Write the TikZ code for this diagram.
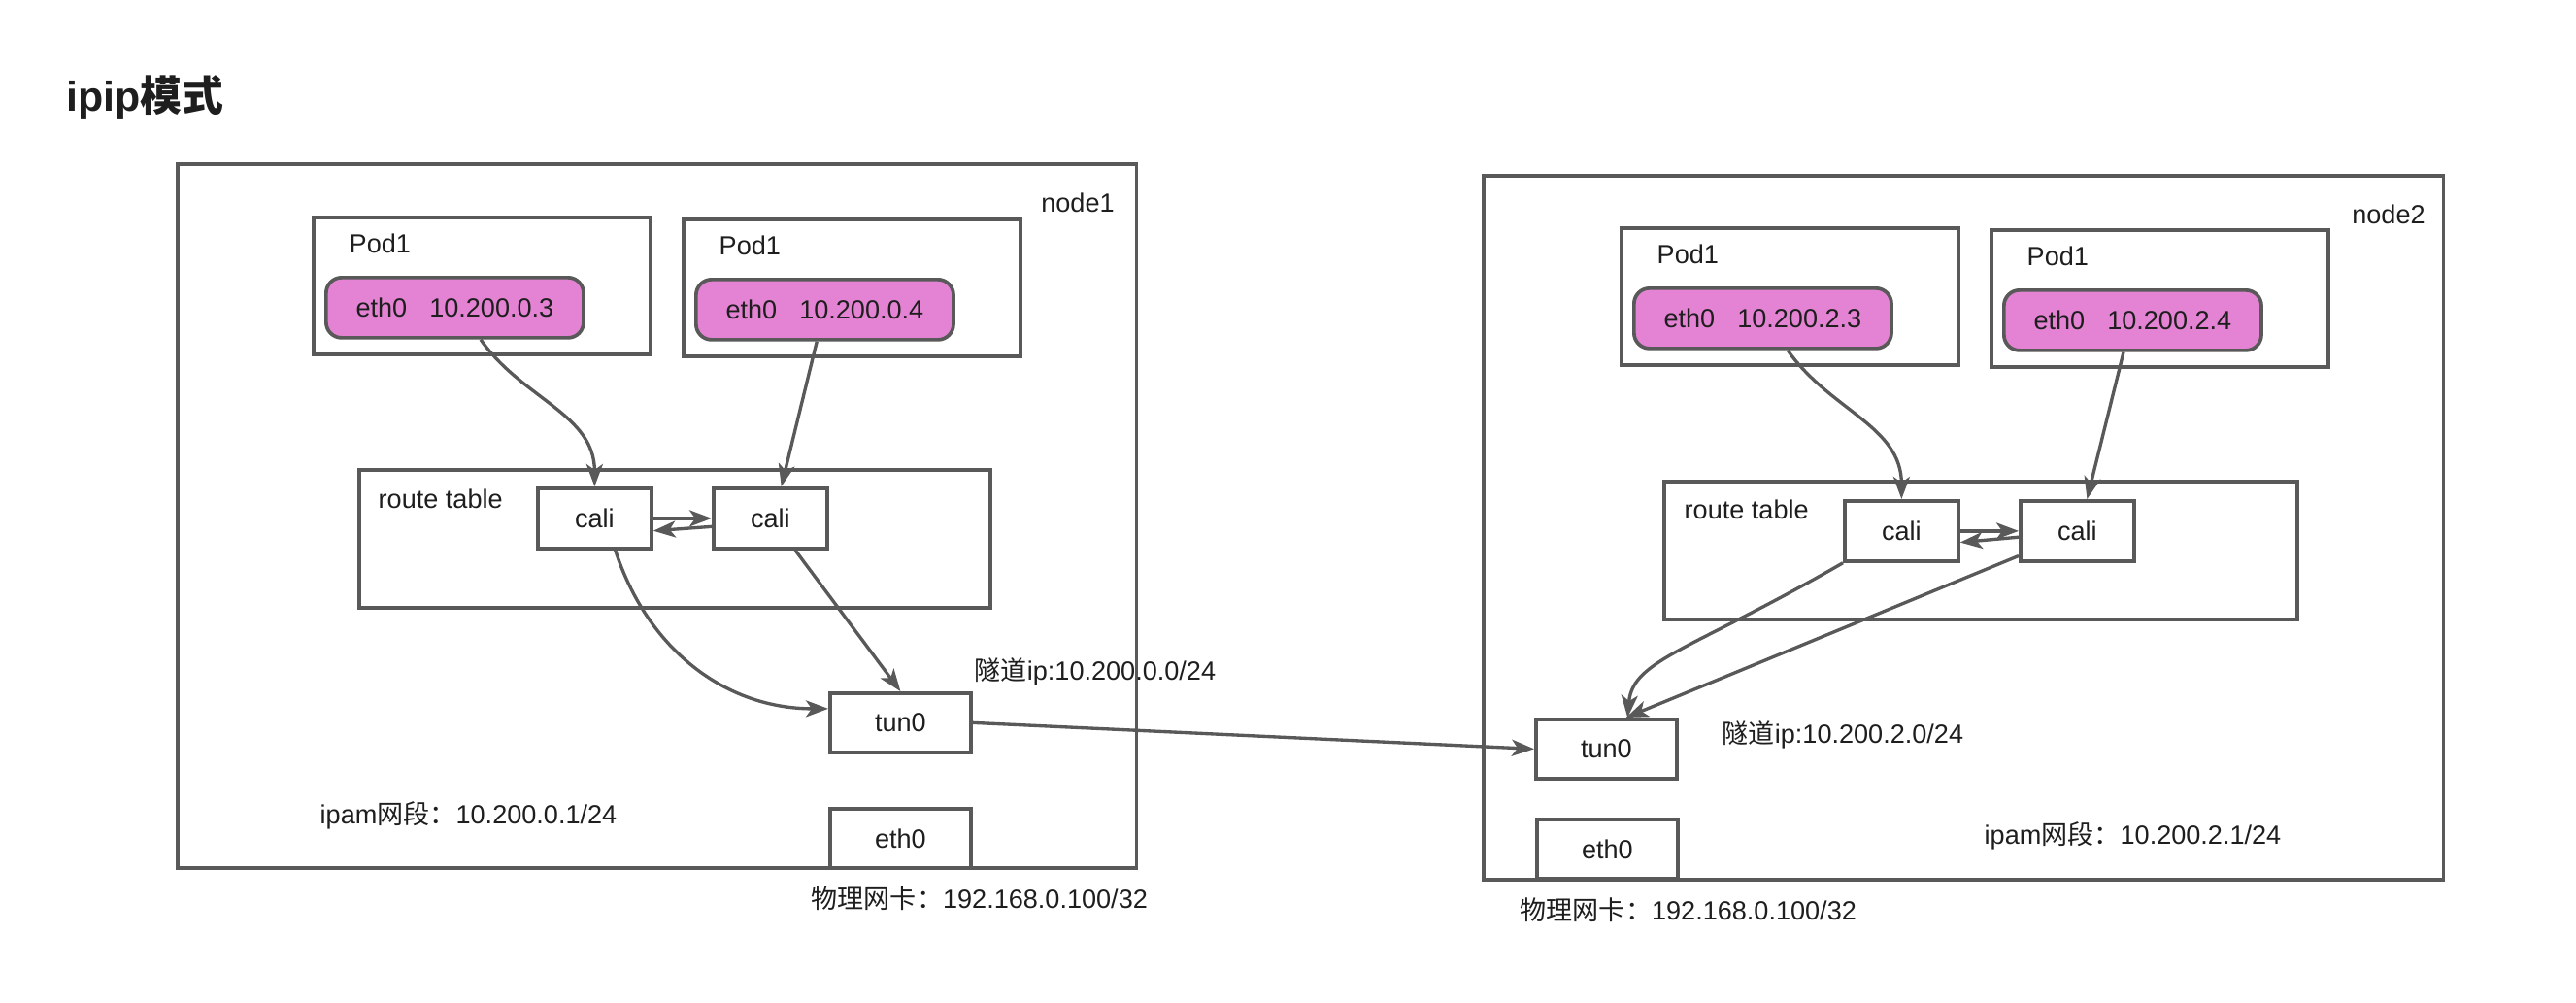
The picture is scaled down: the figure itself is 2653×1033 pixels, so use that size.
\documentclass[tikz,border=0pt]{standalone}
\usepackage{fontspec}
\setmainfont{Liberation Sans}
\newfontfamily\cjk{Noto Sans CJK SC}
\usetikzlibrary{arrows.meta,positioning,calc}
\definecolor{linegray}{RGB}{89,89,89}
\definecolor{podpink}{RGB}{228,131,212}
\definecolor{textdark}{RGB}{30,30,30}
\tikzset{
  nodebox/.style={draw=linegray,line width=1.05pt,inner sep=0pt,anchor=north west},
  podbox/.style={nodebox,minimum width=3.47cm,minimum height=1.41cm},
  pill/.style={nodebox,fill=podpink,rounded corners=0.16cm,minimum width=2.65cm,minimum height=0.62cm,
    font=\fontsize{7.7}{9}\selectfont,text=textdark},
  calibox/.style={nodebox,minimum width=1.17cm,minimum height=0.62cm,font=\fontsize{7.7}{9}\selectfont,text=textdark},
  devbox/.style={nodebox,minimum width=1.45cm,minimum height=0.61cm,font=\fontsize{7.7}{9}\selectfont,text=textdark},
  txt/.style={font=\fontsize{7.7}{9}\selectfont,text=textdark,inner sep=0pt,anchor=west},
  arr/.style={-{Stealth[length=0.23cm,width=0.17cm,inset=0.06cm]},line width=0.95pt,draw=linegray}
}

\begin{document}
\begin{tikzpicture}[
  x=0.01cm,y=0.01cm,
  titletxt/.style={font=\bfseries\fontsize{12.2}{14}\selectfont,text=textdark,inner sep=0pt,anchor=west}
]
\useasboundingbox (0,0) rectangle (2653,-1033);

\node[titletxt] (title) at (68,-101) {ipip{\cjk\bfseries 模式}};

% hosts
\node[nodebox,minimum width=9.87cm,minimum height=7.25cm] (node1) at (181,-167) {};
\node[nodebox,minimum width=9.88cm,minimum height=7.25cm] (node2) at (1526,-179) {};
\node[txt,anchor=center] (node1lbl) at (1110,-209) {node1};
\node[txt,anchor=center] (node2lbl) at (2460,-221) {node2};

% pods
\foreach \p/\x/\y/\ip in {A/321/222/10.200.0.3,B/702/224/10.200.0.4,C/1668/233/10.200.2.3,D/2049/235/10.200.2.4}{
  \node[podbox] (pod\p) at (\x,-\y) {};
  \node[txt] (podlbl\p) at ($(pod\p.north west)+(38,-29)$) {Pod1};
  \node[pill] (pill\p) at ($(pod\p.north west)+(13,-62)$) {eth0\hspace{0.85em}\ip};
}

% route tables
\node[nodebox,minimum width=6.50cm,minimum height=1.42cm] (route1) at (368,-482) {};
\node[nodebox,minimum width=6.52cm,minimum height=1.42cm] (route2) at (1712,-494) {};
\node[txt] (route1lbl) at (389,-514) {route table};
\node[txt] (route2lbl) at (1734,-525) {route table};

\foreach \c/\x/\y in {A/552/501,B/733/501,C/1898/514,D/2079/514}{
  \node[calibox] (cali\c) at (\x,-\y) {cali};
}

% tunnel and physical devices
\node[devbox] (tunA) at (853,-712) {tun0};
\node[devbox] (ethA) at (853,-831) {eth0};
\node[devbox] (tunB) at (1580,-739) {tun0};
\node[devbox] (ethB) at (1581,-842) {eth0};

\node[txt] (tunAlbl) at (1003,-692) {{\cjk 隧道}ip:10.200.0.0/24};
\node[txt] (tunBlbl) at (1773,-757) {{\cjk 隧道}ip:10.200.2.0/24};
\node[txt] (ipamA) at (329,-840) {ipam{\cjk 网段：}10.200.0.1/24};
\node[txt] (ipamB) at (2043,-861) {ipam{\cjk 网段：}10.200.2.1/24};
\node[txt] (physA) at (835,-925) {{\cjk 物理网卡：}192.168.0.100/32};
\node[txt] (physB) at (1565,-937) {{\cjk 物理网卡：}192.168.0.100/32};

% node1 paths
\draw[arr] (pillA.-51) to[out=-55,in=90] (caliA.north);
\draw[arr] (pillB.-104) -- (caliB.71);
\draw[arr] (caliA.east) -- (caliB.west);
\draw[arr] (caliB.188) -- (caliA.-12);
\draw[arr] (caliA.-57) to[out=-72,in=180] (tunA.169);
\draw[arr] (caliB.-52) -- (tunA.north);

% tunnel
\draw[arr] (tunA.east) -- (tunB.west);

% node2 paths
\draw[arr] (pillC.-52) to[out=-55,in=90] (caliC.north);
\draw[arr] (pillD.-106) -- (caliD.73);
\draw[arr] (caliC.east) -- (caliD.west);
\draw[arr] (caliD.186) -- (caliC.-11);
\draw[arr] (caliC.south west) .. controls +(-150:180) and +(85:60) .. (tunB.56);
\draw[arr] (caliD.203) -- (tunB.58);

\end{tikzpicture}
\end{document}
